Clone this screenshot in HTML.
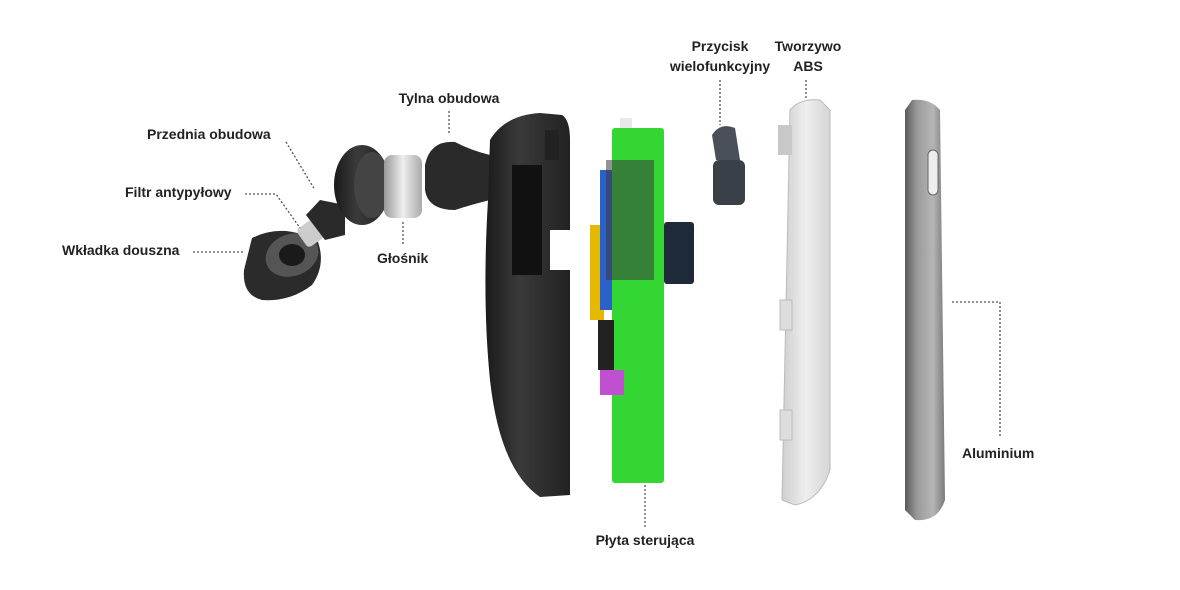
<!DOCTYPE html>
<html><head><meta charset="utf-8"><style>
html,body{margin:0;padding:0;background:#fff;}
svg{display:block}
text{font-family:"Liberation Sans",sans-serif;font-size:14px;font-weight:bold;fill:#222;}
.d{stroke:#555;stroke-width:1.3;stroke-dasharray:2 2;fill:none}
</style></head><body>
<svg width="1180" height="590" viewBox="0 0 1180 590">
<defs>
<linearGradient id="al" x1="0" x2="1"><stop offset="0" stop-color="#5a5a5a"/><stop offset="0.3" stop-color="#9a9a9a"/><stop offset="0.7" stop-color="#b5b5b5"/><stop offset="1" stop-color="#7a7a7a"/></linearGradient>
<linearGradient id="abs" x1="0" x2="1"><stop offset="0" stop-color="#cfcfcf"/><stop offset="0.5" stop-color="#eeeeee"/><stop offset="1" stop-color="#d5d5d5"/></linearGradient>
<linearGradient id="bk" x1="0" x2="1"><stop offset="0" stop-color="#1a1a1a"/><stop offset="0.4" stop-color="#3a3a3a"/><stop offset="1" stop-color="#222"/></linearGradient>
<linearGradient id="sil" x1="0" x2="1"><stop offset="0" stop-color="#999"/><stop offset="0.5" stop-color="#eee"/><stop offset="1" stop-color="#aaa"/></linearGradient>
</defs>
<!-- ear tip -->
<path d="M252 238 Q285 222 318 242 Q326 265 312 285 Q290 302 262 300 Q242 295 244 270 Z" fill="#2b2b2b"/>
<ellipse cx="292" cy="255" rx="27" ry="21" fill="#555" transform="rotate(-20 292 255)"/>
<ellipse cx="292" cy="255" rx="13" ry="11" fill="#1a1a1a"/>
<!-- filter -->
<rect x="300" y="222" width="22" height="22" rx="4" fill="#ccc" transform="rotate(-35 311 233)"/>
<!-- front housing nozzle -->
<path d="M306 215 L320 200 L345 205 L345 235 L325 240 Z" fill="#2a2a2a"/>
<ellipse cx="362" cy="185" rx="28" ry="40" fill="url(#bk)"/>
<ellipse cx="372" cy="185" rx="18" ry="33" fill="#444"/>
<!-- speaker -->
<rect x="384" y="155" width="38" height="63" rx="8" fill="url(#sil)"/>
<!-- back knob -->
<path d="M425 165 Q430 140 455 142 Q470 150 490 155 L490 200 Q470 205 455 210 Q428 210 425 190 Z" fill="#2a2a2a"/>
<!-- rear housing -->
<path d="M490 140 Q505 115 540 113 L562 115 Q570 120 570 140 L570 495 L540 497 Q500 470 490 380 Q482 300 488 200 Z" fill="url(#bk)"/>
<rect x="512" y="165" width="30" height="110" fill="#111"/>
<rect x="550" y="230" width="20" height="40" fill="#fff"/>
<rect x="545" y="130" width="14" height="30" fill="#222"/>
<!-- PCB -->
<rect x="620" y="118" width="12" height="20" fill="#e8e8e8"/>
<rect x="590" y="225" width="14" height="95" fill="#e6b800"/>
<rect x="600" y="170" width="35" height="140" fill="#2a62c9"/>
<rect x="612" y="128" width="52" height="355" rx="3" fill="#33d633"/>
<rect x="606" y="160" width="48" height="120" fill="#3a3a3a" opacity="0.55"/>
<rect x="664" y="222" width="30" height="62" rx="3" fill="#1e2a3a"/>
<rect x="600" y="370" width="24" height="25" fill="#c050d0"/>
<rect x="598" y="320" width="16" height="50" fill="#222"/>
<!-- button -->
<path d="M712 135 Q720 122 735 128 L740 160 L716 160 Z" fill="#4a5058"/>
<rect x="713" y="160" width="32" height="45" rx="6" fill="#3a4048"/>
<!-- ABS -->
<path d="M790 110 Q800 98 820 100 L830 110 L830 470 Q820 500 795 505 L782 500 Z" fill="url(#abs)" stroke="#bbb"/>
<rect x="778" y="125" width="14" height="30" fill="#c8c8c8"/>
<rect x="780" y="300" width="12" height="30" fill="#ddd" stroke="#bbb"/>
<rect x="780" y="410" width="12" height="30" fill="#ddd" stroke="#bbb"/>
<!-- Aluminium -->
<path d="M912 100 Q930 98 940 110 L945 500 Q938 522 915 520 L905 510 L905 110 Z" fill="url(#al)"/>
<rect x="928" y="150" width="10" height="45" rx="5" fill="#eee" stroke="#666"/>
<!-- labels -->
<text x="449" y="103" text-anchor="middle">Tylna obudowa</text>
<path class="d" d="M449 111 V135"/>
<text x="147" y="139">Przednia obudowa</text>
<path class="d" d="M286 142 L315 190"/>
<text x="125" y="197">Filtr antypyłowy</text>
<path class="d" d="M245 194 H276 L300 228"/>
<text x="62" y="255">Wkładka douszna</text>
<path class="d" d="M193 252 H243"/>
<text x="377" y="263">Głośnik</text>
<path class="d" d="M403 222 V245"/>
<text x="720" y="51" text-anchor="middle">Przycisk</text>
<text x="720" y="71" text-anchor="middle">wielofunkcyjny</text>
<path class="d" d="M720 80 V125"/>
<text x="808" y="51" text-anchor="middle">Tworzywo</text>
<text x="808" y="71" text-anchor="middle">ABS</text>
<path class="d" d="M806 80 V100"/>
<text x="962" y="458">Aluminium</text>
<path class="d" d="M952 302 H1000 V437"/>
<text x="645" y="545" text-anchor="middle">Płyta sterująca</text>
<path class="d" d="M645 485 V527"/>
</svg>
</body></html>
